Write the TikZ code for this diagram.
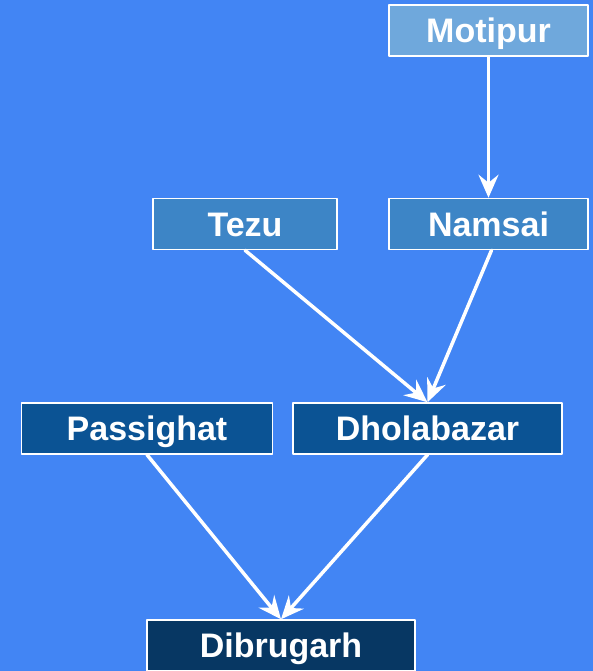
\documentclass[tikz,border=0pt]{standalone}
\usepackage{fontspec}
\setmainfont{Liberation Sans}
\usetikzlibrary{arrows.meta}
\definecolor{BgBlue}{HTML}{4285F4}
\definecolor{TopBlue}{HTML}{6FA8DC}
\definecolor{MidBlue}{HTML}{3D85C6}
\definecolor{LowBlue}{HTML}{0B5394}
\definecolor{EndBlue}{HTML}{073763}
\begin{document}
\begin{tikzpicture}[x=1pt,y=-1pt,line cap=round,line join=round,
  town/.style={draw=white,line width=1.5pt,text=white,inner sep=0pt,minimum height=51pt,text height=24pt,text depth=0pt,font=\fontsize{34}{38}\selectfont\bfseries},
  link/.style={draw=white,line width=3.5pt,-{Stealth[length=23pt,width=20pt,inset=8pt]}}]
  \fill[BgBlue] (0,0) rectangle (593,671); \useasboundingbox (0,0) rectangle (593,671);
  \node[town,fill=TopBlue,minimum width=199pt] (motipur) at (488.5,30.5) {Motipur};
  \node[town,fill=MidBlue,minimum width=184pt] (tezu) at (245,224) {Tezu};
  \node[town,fill=MidBlue,minimum width=199pt] (namsai) at (488.5,224) {Namsai};
  \node[town,fill=LowBlue,minimum width=251pt] (passighat) at (147,428.5) {Passighat};
  \node[town,fill=LowBlue,minimum width=269pt] (dholabazar) at (427.5,428.5) {Dholabazar};
  \node[town,fill=EndBlue,minimum width=268pt] (dibrugarh) at (281,645.5) {Dibrugarh};
  \draw[link] (motipur) -- (namsai); \draw[link] (tezu.south) -- (dholabazar.north);
  \draw[link] ([xshift=3pt]namsai.south) -- (dholabazar.north);
  \draw[link] (passighat.south) -- (dibrugarh.north); \draw[link] (dholabazar.south) -- (dibrugarh.north);
\end{tikzpicture}
\end{document}
